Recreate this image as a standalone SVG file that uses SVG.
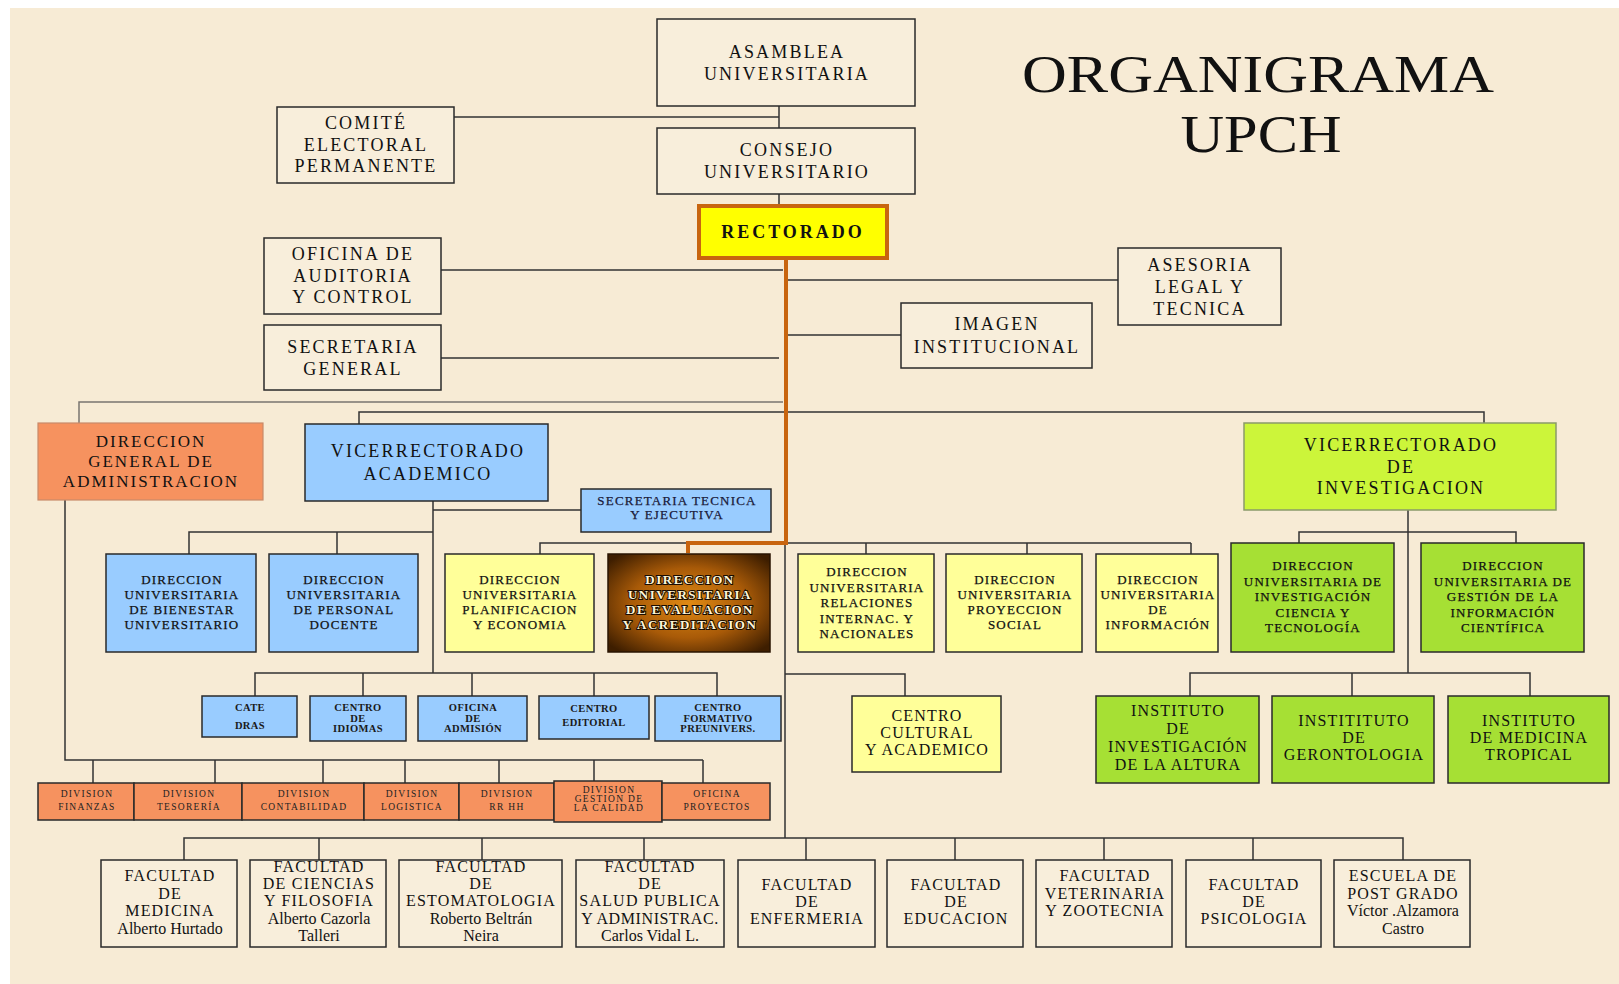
<svg xmlns="http://www.w3.org/2000/svg" width="1619" height="984" viewBox="0 0 1619 984">
<defs>
<style>
.box{stroke:#2a2a2a;stroke-width:1.5}
.plain{fill:#f8eedb}
.blue{fill:#99ccff}
.yel{fill:#ffff99}
.sal{fill:#f6925f}
.lime{fill:#ccf53a;stroke:#8a9a6a}
.grn{fill:#a6e034}
.t{font-family:"Liberation Serif","Times New Roman",serif;fill:#111;text-anchor:middle}
.f18{font-size:18px;letter-spacing:2.2px}
.f17{font-size:17px;letter-spacing:2px}
.f16{font-size:16px;letter-spacing:1.2px}
.f13{font-size:13px;letter-spacing:1.2px;stroke:#111;stroke-width:0.25}
.f10{font-size:10.5px;font-weight:bold;letter-spacing:0.4px;fill:#1a1a1a}
.f9{font-size:9.5px;letter-spacing:1.3px;fill:#222}
.ln{fill:none;stroke:#333;stroke-width:1.5}
.lg{fill:none;stroke:#7a7570;stroke-width:1.5}
.lo{fill:none;stroke:#c8650f;stroke-width:4}
</style>
<radialGradient id="brown" cx="50%" cy="50%" r="65%">
<stop offset="0" stop-color="#e08a14"/>
<stop offset="0.55" stop-color="#a85a08"/>
<stop offset="1" stop-color="#3e1e00"/>
</radialGradient>
</defs>
<rect x="0" y="0" width="1619" height="984" fill="#ffffff"/>
<rect x="10" y="8" width="1609" height="976" fill="#f7ebd5"/>

<g id="title">
<text class="t" x="1258" y="92" font-size="53" textLength="472" lengthAdjust="spacingAndGlyphs" style="letter-spacing:0">ORGANIGRAMA</text>
<text class="t" x="1261" y="152" font-size="53" textLength="161" lengthAdjust="spacingAndGlyphs" style="letter-spacing:0">UPCH</text>
</g>

<g id="connectors">
<path class="ln" d="M454,117H779M779,106V128M779,194V204"/>
<path class="ln" d="M441,270H783M786,280H1118M786,335H901M441,358H779"/>
<path class="lg" d="M79,423V402H783"/>
<path class="ln" d="M359,424V412H1484V423"/>
<path class="ln" d="M433,501V673M433,510H581M189,554V532H433M337,532V554"/>
<path class="ln" d="M540,554V543H688"/>
<path class="ln" d="M786,543H1191M866,543V554M1027,543V554M1191,543V554"/>
<path class="ln" d="M785,543V838M785,674H905V696"/>
<path class="ln" d="M1408,510V673M1299,543V532H1516V543M1190,696V673H1530V696M1352,673V696"/>
<path class="ln" d="M255,696V673H717V696M363,673V696M472,673V696M594,673V696"/>
<path class="ln" d="M65,500V760H703M93,760V783M215,760V783M323,760V783M405,760V783M499,760V783M594,760V781M703,760V783"/>
<path class="ln" d="M184,860V838H1403V860M319,838V860M482,838V860M644,838V860M806,838V860M955,838V860M1104,838V860M1253,838V860"/>
<path class="lo" d="M786,260V543H688V553"/>
</g>

<g id="asamblea"><rect class="box plain" x="657" y="19" width="258" height="87"/>
<text class="t f18" x="787" y="58"><tspan x="787">ASAMBLEA</tspan><tspan x="787" dy="22">UNIVERSITARIA</tspan></text></g>

<g id="comite"><rect class="box plain" x="277" y="107" width="177" height="76"/>
<text class="t f18" x="366" y="129"><tspan x="366">COMITÉ</tspan><tspan x="366" dy="21.5">ELECTORAL</tspan><tspan x="366" dy="21.5">PERMANENTE</tspan></text></g>

<g id="consejo"><rect class="box plain" x="657" y="128" width="258" height="66"/>
<text class="t f18" x="787" y="156"><tspan x="787">CONSEJO</tspan><tspan x="787" dy="22">UNIVERSITARIO</tspan></text></g>

<g id="rectorado"><rect x="699" y="206" width="188" height="52" fill="#ffff00" stroke="#c8650f" stroke-width="4"/>
<text class="t" x="793" y="238" font-size="18" font-weight="bold" style="letter-spacing:3px">RECTORADO</text></g>

<g id="auditoria"><rect class="box plain" x="264" y="238" width="177" height="76"/>
<text class="t f18" x="353" y="260"><tspan x="353">OFICINA DE</tspan><tspan x="353" dy="21.5">AUDITORIA</tspan><tspan x="353" dy="21.5">Y CONTROL</tspan></text></g>

<g id="secretaria-general"><rect class="box plain" x="264" y="325" width="177" height="65"/>
<text class="t f18" x="353" y="353"><tspan x="353">SECRETARIA</tspan><tspan x="353" dy="22">GENERAL</tspan></text></g>

<g id="asesoria"><rect class="box plain" x="1118" y="248" width="163" height="77"/>
<text class="t f18" x="1200" y="271"><tspan x="1200">ASESORIA</tspan><tspan x="1200" dy="22">LEGAL Y</tspan><tspan x="1200" dy="22">TECNICA</tspan></text></g>

<g id="imagen"><rect class="box plain" x="901" y="303" width="191" height="65"/>
<text class="t f18" x="997" y="330"><tspan x="997">IMAGEN</tspan><tspan x="997" dy="23">INSTITUCIONAL</tspan></text></g>

<g id="dga"><rect class="sal" x="38" y="423" width="225" height="77" stroke="#c98a6a" stroke-width="1.2"/>
<text class="t f17" x="151" y="447"><tspan x="151">DIRECCION</tspan><tspan x="151" dy="19.5">GENERAL DE</tspan><tspan x="151" dy="20.5">ADMINISTRACION</tspan></text></g>

<g id="vice-academico"><rect class="box blue" x="305" y="424" width="243" height="77"/>
<text class="t f18" x="428" y="457"><tspan x="428">VICERRECTORADO</tspan><tspan x="428" dy="23">ACADEMICO</tspan></text></g>

<g id="sec-tecnica"><rect class="box blue" x="581" y="489" width="190" height="43"/>
<text class="t f13" x="677" y="505" style="fill:#1a1a3a;stroke:#1a1a3a"><tspan x="677">SECRETARIA TECNICA</tspan><tspan x="677" dy="14">Y EJECUTIVA</tspan></text></g>

<g id="vice-investigacion"><rect class="box lime" x="1244" y="423" width="312" height="87"/>
<text class="t f18" x="1401" y="451"><tspan x="1401">VICERRECTORADO</tspan><tspan x="1401" dy="22">DE</tspan><tspan x="1401" dy="21">INVESTIGACION</tspan></text></g>

<g id="dir-bienestar"><rect class="box blue" x="106" y="554" width="150" height="98"/>
<text class="t f13" x="182" y="584"><tspan x="182">DIRECCION</tspan><tspan x="182" dy="15">UNIVERSITARIA</tspan><tspan x="182" dy="15">DE BIENESTAR</tspan><tspan x="182" dy="15">UNIVERSITARIO</tspan></text></g>

<g id="dir-personal"><rect class="box blue" x="269" y="554" width="149" height="98"/>
<text class="t f13" x="344" y="584"><tspan x="344">DIRECCION</tspan><tspan x="344" dy="15">UNIVERSITARIA</tspan><tspan x="344" dy="15">DE PERSONAL</tspan><tspan x="344" dy="15">DOCENTE</tspan></text></g>

<g id="dir-planificacion"><rect class="box yel" x="445" y="554" width="149" height="98"/>
<text class="t f13" x="520" y="584"><tspan x="520">DIRECCION</tspan><tspan x="520" dy="15">UNIVERSITARIA</tspan><tspan x="520" dy="15">PLANIFICACION</tspan><tspan x="520" dy="15">Y ECONOMIA</tspan></text></g>

<g id="dir-evaluacion"><rect x="608" y="554" width="162" height="98" fill="url(#brown)" stroke="#2a1400" stroke-width="1.5"/>
<text class="t" x="690" y="584" font-size="13" font-weight="bold" style="letter-spacing:1.5px;fill:#fff6d8;stroke:#1a0c00;stroke-width:2;paint-order:stroke"><tspan x="690">DIRECCION</tspan><tspan x="690" dy="15">UNIVERSITARIA</tspan><tspan x="690" dy="15">DE EVALUACION</tspan><tspan x="690" dy="15">Y ACREDITACION</tspan></text></g>

<g id="dir-relaciones"><rect class="box yel" x="798" y="554" width="136" height="98"/>
<text class="t f13" x="867" y="576"><tspan x="867">DIRECCION</tspan><tspan x="867" dy="15.5">UNIVERSITARIA</tspan><tspan x="867" dy="15.5">RELACIONES</tspan><tspan x="867" dy="15.5">INTERNAC. Y</tspan><tspan x="867" dy="15.5">NACIONALES</tspan></text></g>

<g id="dir-proyeccion"><rect class="box yel" x="946" y="554" width="136" height="98"/>
<text class="t f13" x="1015" y="584"><tspan x="1015">DIRECCION</tspan><tspan x="1015" dy="15">UNIVERSITARIA</tspan><tspan x="1015" dy="15">PROYECCION</tspan><tspan x="1015" dy="15">SOCIAL</tspan></text></g>

<g id="dir-informacion"><rect class="box yel" x="1096" y="554" width="122" height="98"/>
<text class="t f13" x="1158" y="584"><tspan x="1158">DIRECCION</tspan><tspan x="1158" dy="15">UNIVERSITARIA</tspan><tspan x="1158" dy="15">DE</tspan><tspan x="1158" dy="15">INFORMACIÓN</tspan></text></g>

<g id="dir-investigacion"><rect class="box grn" x="1231" y="543" width="163" height="109"/>
<text class="t f13" x="1313" y="570"><tspan x="1313">DIRECCION</tspan><tspan x="1313" dy="15.5">UNIVERSITARIA DE</tspan><tspan x="1313" dy="15.5">INVESTIGACIÓN</tspan><tspan x="1313" dy="15.5">CIENCIA Y</tspan><tspan x="1313" dy="15.5">TECNOLOGÍA</tspan></text></g>

<g id="dir-gestion"><rect class="box grn" x="1421" y="543" width="163" height="109"/>
<text class="t f13" x="1503" y="570"><tspan x="1503">DIRECCION</tspan><tspan x="1503" dy="15.5">UNIVERSITARIA DE</tspan><tspan x="1503" dy="15.5">GESTIÓN DE LA</tspan><tspan x="1503" dy="15.5">INFORMACIÓN</tspan><tspan x="1503" dy="15.5">CIENTÍFICA</tspan></text></g>

<g id="catedras"><rect class="box blue" x="202" y="696" width="95" height="41"/>
<text class="t f10" x="250" y="711"><tspan x="250">CATE</tspan><tspan x="250" dy="18">DRAS</tspan></text></g>

<g id="idiomas"><rect class="box blue" x="310" y="696" width="96" height="45"/>
<text class="t f10" x="358" y="711"><tspan x="358">CENTRO</tspan><tspan x="358" dy="10.5">DE</tspan><tspan x="358" dy="10.5">IDIOMAS</tspan></text></g>

<g id="admision"><rect class="box blue" x="418" y="696" width="109" height="45"/>
<text class="t f10" x="473" y="711"><tspan x="473">OFICINA</tspan><tspan x="473" dy="10.5">DE</tspan><tspan x="473" dy="10.5">ADMISIÓN</tspan></text></g>

<g id="editorial"><rect class="box blue" x="539" y="696" width="110" height="43"/>
<text class="t f10" x="594" y="712"><tspan x="594">CENTRO</tspan><tspan x="594" dy="14">EDITORIAL</tspan></text></g>

<g id="preunivers"><rect class="box blue" x="655" y="696" width="126" height="45"/>
<text class="t f10" x="718" y="711"><tspan x="718">CENTRO</tspan><tspan x="718" dy="10.5">FORMATIVO</tspan><tspan x="718" dy="10.5">PREUNIVERS.</tspan></text></g>

<g id="centro-cultural"><rect class="box yel" x="852" y="696" width="149" height="76"/>
<text class="t f16" x="927" y="721"><tspan x="927">CENTRO</tspan><tspan x="927" dy="17">CULTURAL</tspan><tspan x="927" dy="17">Y ACADEMICO</tspan></text></g>

<g id="inst-altura"><rect class="box grn" x="1096" y="696" width="163" height="87"/>
<text class="t f16" x="1178" y="716"><tspan x="1178">INSTITUTO</tspan><tspan x="1178" dy="18">DE</tspan><tspan x="1178" dy="18">INVESTIGACIÓN</tspan><tspan x="1178" dy="18">DE LA ALTURA</tspan></text></g>

<g id="inst-gerontologia"><rect class="box grn" x="1272" y="696" width="162" height="87"/>
<text class="t f16" x="1354" y="726"><tspan x="1354">INSTITITUTO</tspan><tspan x="1354" dy="17">DE</tspan><tspan x="1354" dy="17">GERONTOLOGIA</tspan></text></g>

<g id="inst-tropical"><rect class="box grn" x="1448" y="696" width="161" height="87"/>
<text class="t f16" x="1529" y="726"><tspan x="1529">INSTITUTO</tspan><tspan x="1529" dy="17">DE MEDICINA</tspan><tspan x="1529" dy="17">TROPICAL</tspan></text></g>

<g id="div-finanzas"><rect class="box sal" x="38" y="783" width="96" height="37"/>
<text class="t f9" x="87" y="797"><tspan x="87">DIVISION</tspan><tspan x="87" dy="13">FINANZAS</tspan></text></g>
<g id="div-tesoreria"><rect class="box sal" x="134" y="783" width="108" height="37"/>
<text class="t f9" x="189" y="797"><tspan x="189">DIVISION</tspan><tspan x="189" dy="13">TESORERÍA</tspan></text></g>
<g id="div-contabilidad"><rect class="box sal" x="242" y="783" width="122" height="37"/>
<text class="t f9" x="304" y="797"><tspan x="304">DIVISION</tspan><tspan x="304" dy="13">CONTABILIDAD</tspan></text></g>
<g id="div-logistica"><rect class="box sal" x="364" y="783" width="95" height="37"/>
<text class="t f9" x="412" y="797"><tspan x="412">DIVISION</tspan><tspan x="412" dy="13">LOGISTICA</tspan></text></g>
<g id="div-rrhh"><rect class="box sal" x="459" y="783" width="95" height="37"/>
<text class="t f9" x="507" y="797"><tspan x="507">DIVISION</tspan><tspan x="507" dy="13">RR HH</tspan></text></g>
<g id="div-calidad"><rect class="box sal" x="554" y="781" width="108" height="41"/>
<text class="t f9" x="609" y="793"><tspan x="609">DIVISION</tspan><tspan x="609" dy="9">GESTION DE</tspan><tspan x="609" dy="9">LA CALIDAD</tspan></text></g>
<g id="of-proyectos"><rect class="box sal" x="662" y="783" width="108" height="37"/>
<text class="t f9" x="717" y="797"><tspan x="717">OFICINA</tspan><tspan x="717" dy="13">PROYECTOS</tspan></text></g>

<g id="fac-medicina"><rect class="box plain" x="101" y="860" width="136" height="87"/>
<text class="t f16" x="170" y="881"><tspan x="170">FACULTAD</tspan><tspan x="170" dy="17.5">DE</tspan><tspan x="170" dy="17.5">MEDICINA</tspan><tspan x="170" dy="17.5" style="letter-spacing:0">Alberto Hurtado</tspan></text></g>

<g id="fac-ciencias"><rect class="box plain" x="250" y="860" width="136" height="87"/>
<text class="t f16" x="319" y="872"><tspan x="319">FACULTAD</tspan><tspan x="319" dy="17.2">DE CIENCIAS</tspan><tspan x="319" dy="17.2">Y FILOSOFIA</tspan><tspan x="319" dy="17.2" style="letter-spacing:0">Alberto Cazorla</tspan><tspan x="319" dy="17.2" style="letter-spacing:0">Talleri</tspan></text></g>

<g id="fac-estomatologia"><rect class="box plain" x="399" y="860" width="163" height="87"/>
<text class="t f16" x="481" y="872"><tspan x="481">FACULTAD</tspan><tspan x="481" dy="17.2">DE</tspan><tspan x="481" dy="17.2">ESTOMATOLOGIA</tspan><tspan x="481" dy="17.2" style="letter-spacing:0">Roberto Beltrán</tspan><tspan x="481" dy="17.2" style="letter-spacing:0">Neira</tspan></text></g>

<g id="fac-salud"><rect class="box plain" x="576" y="860" width="148" height="87"/>
<text class="t f16" x="650" y="872"><tspan x="650">FACULTAD</tspan><tspan x="650" dy="17.2">DE</tspan><tspan x="650" dy="17.2">SALUD PUBLICA</tspan><tspan x="650" dy="17.2" style="letter-spacing:0.6px">Y ADMINISTRAC.</tspan><tspan x="650" dy="17.2" style="letter-spacing:0">Carlos Vidal L.</tspan></text></g>

<g id="fac-enfermeria"><rect class="box plain" x="738" y="860" width="137" height="87"/>
<text class="t f16" x="807" y="890"><tspan x="807">FACULTAD</tspan><tspan x="807" dy="16.5">DE</tspan><tspan x="807" dy="17.5">ENFERMERIA</tspan></text></g>

<g id="fac-educacion"><rect class="box plain" x="887" y="860" width="136" height="87"/>
<text class="t f16" x="956" y="890"><tspan x="956">FACULTAD</tspan><tspan x="956" dy="16.5">DE</tspan><tspan x="956" dy="17.5">EDUCACION</tspan></text></g>

<g id="fac-veterinaria"><rect class="box plain" x="1036" y="860" width="136" height="87"/>
<text class="t f16" x="1105" y="881"><tspan x="1105">FACULTAD</tspan><tspan x="1105" dy="17.5">VETERINARIA</tspan><tspan x="1105" dy="17.5">Y ZOOTECNIA</tspan></text></g>

<g id="fac-psicologia"><rect class="box plain" x="1186" y="860" width="135" height="87"/>
<text class="t f16" x="1254" y="890"><tspan x="1254">FACULTAD</tspan><tspan x="1254" dy="16.5">DE</tspan><tspan x="1254" dy="17.5">PSICOLOGIA</tspan></text></g>

<g id="post-grado"><rect class="box plain" x="1334" y="860" width="136" height="87"/>
<text class="t f16" x="1403" y="881"><tspan x="1403">ESCUELA DE</tspan><tspan x="1403" dy="17.5">POST GRADO</tspan><tspan x="1403" dy="17.5" style="letter-spacing:0">Víctor .Alzamora</tspan><tspan x="1403" dy="17.5" style="letter-spacing:0">Castro</tspan></text></g>
</svg>
